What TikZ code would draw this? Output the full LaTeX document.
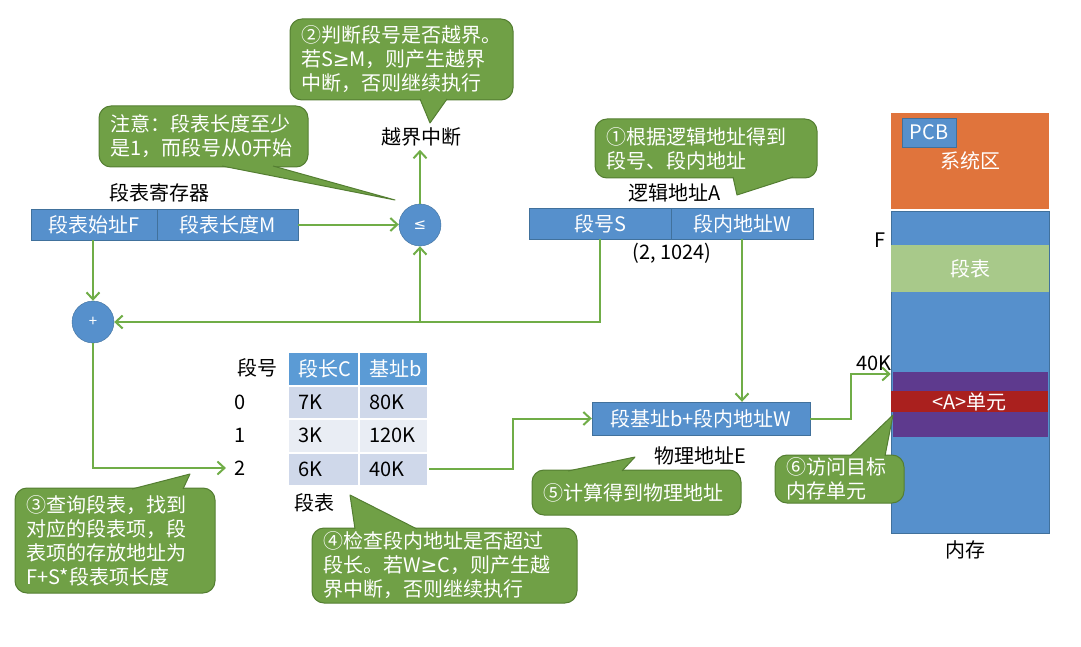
\documentclass[tikz,border=0pt]{standalone}
\usepackage{fontspec}
\setmainfont{Noto Sans CJK SC}
\newfontfamily\symfont{DejaVu Sans}
\usetikzlibrary{arrows.meta,calc}

\definecolor{boxblue}{RGB}{86,144,204}
\definecolor{boxline}{RGB}{65,113,156}
\definecolor{headblue}{RGB}{91,155,213}
\definecolor{rowdark}{RGB}{207,216,234}
\definecolor{rowlight}{RGB}{233,237,244}
\definecolor{callgreen}{RGB}{112,160,70}
\definecolor{callline}{RGB}{84,126,50}
\definecolor{flowgreen}{RGB}{112,173,71}
\definecolor{sysorange}{RGB}{224,116,60}
\definecolor{tabgreen}{RGB}{168,201,138}
\definecolor{cellpurple}{RGB}{94,58,142}
\definecolor{cellred}{RGB}{170,32,30}

\newcommand\bodyfont{\fontsize{20}{24}\selectfont}
\newcommand\signfont{\fontsize{15}{18}\selectfont}
\newcommand\calltail[3]{%
  \fill[callgreen] #1 -- #2 -- #3 -- cycle;
  \draw[callline, line width=1pt, line join=round] #1 -- #2 -- #3;}

\tikzset{
  lbl/.style={font=\bodyfont, text=black},
  bluebox/.style={draw=boxline, fill=boxblue, text=white, font=\bodyfont,
    minimum height=31, inner sep=0},
  cmp/.style={circle, draw=boxline, fill=boxblue, text=white, font=\signfont,
    minimum size=42, inner sep=0},
  cell/.style={draw=white, line width=2pt, font=\bodyfont, align=left,
    minimum height=33.5, inner xsep=10, inner ysep=0},
  colC/.style={text width=51},
  colB/.style={text width=49},
  memblk/.style={minimum width=158, inner sep=0, text=white, font=\bodyfont},
  callout/.style={rounded corners=12, fill=callgreen, draw=callline, line width=1pt,
    text=white, align=left, inner xsep=11, inner ysep=0, font=\bodyfont},
  flow/.style={draw=flowgreen, line width=2pt, -{Straight Barb[length=7pt,width=13pt]}}
}

\begin{document}
\begin{tikzpicture}[x=1pt,y=-1pt]
    \useasboundingbox (0,0) rectangle (1081,647);

    \node[lbl] (regname) at (159,193) {段表寄存器};
    \node[bluebox, minimum width=126] (regF) at (94,224.5) {段表始址F};
    \node[bluebox, minimum width=141] (regM) at (227.5,224.5) {段表长度M};

    \node[cmp] (le) at (420,225) {\symfont ≤};
    \node[cmp] (plus) at (93,322) {+};
    \node[lbl] (brk) at (421,137) {越界中断};

    \node[lbl] (laname) at (675,193) {逻辑地址A};
    \node[bluebox, minimum width=142] (laS) at (600,223.5) {段号S};
    \node[bluebox, minimum width=142] (laW) at (742,223.5) {段内地址W};
    \node[lbl] (laval) at (672,253) {(2, 1024)};

    \node[bluebox, minimum width=218, minimum height=33] (pa) at (701,418.5) {段基址b+段内地址W};
    \node[lbl] (paname) at (700,456) {物理地址E};

    \node[lbl] (hno) at (257,368) {段号};
    \node[cell, colC, fill=headblue, text=white] (hC) at (323.5,368.75) {段长C};
    \node[cell, colB, fill=headblue, text=white] (hB) at (393.5,368.75) {基址b};
    \node[lbl] (r0) at (240,402.25) {0};
    \node[cell, colC, fill=rowdark] (c0) at (323.5,402.25) {7K};
    \node[cell, colB, fill=rowdark] (b0) at (393.5,402.25) {80K};
    \node[lbl] (r1) at (240,435.75) {1};
    \node[cell, colC, fill=rowlight] (c1) at (323.5,435.75) {3K};
    \node[cell, colB, fill=rowlight] (b1) at (393.5,435.75) {120K};
    \node[lbl] (r2) at (240,468) {2};
    \node[cell, colC, fill=rowdark] (c2) at (323.5,469.25) {6K};
    \node[cell, colB, fill=rowdark] (b2) at (393.5,469.25) {40K};
    \node[lbl] (tabname) at (314,503) {段表};

    \node[memblk, fill=sysorange, minimum height=96] (sys) at (970,161) {系统区};
    \node[memblk, fill=boxblue, draw=boxline, line width=0.6pt, minimum height=322] (mem) at (970,372) {};
    \node[memblk, fill=tabgreen, minimum height=47] (segtab) at (970,268.5) {段表};
    \node[memblk, fill=cellpurple, minimum width=155, minimum height=65] (tgt) at (970.5,404.5) {};
    \node[memblk, fill=cellred, minimum width=157, minimum height=21] (unitA) at (969.5,401.5) {<A>单元};
    \node[bluebox, minimum width=54, minimum height=29] (pcb) at (929,132.5) {PCB};
    \node[lbl] (fmark) at (880,240) {F};
    \node[lbl] (mark40) at (874,363) {40K};
    \node[lbl] (memname) at (965,550) {内存};

    \draw[flow] (regM.east) -- (regM.east -| le.west);
    \draw[flow] (le.north) -- (le.north |- brk.south);
    \draw[flow] (plus |- regF.south) -- (plus);
    \draw[flow] (laS.south) |- (plus);
    \coordinate (lejoin) at (le |- plus);
    \draw[flow] (lejoin) -- (le);
    \draw[flow] (laW.south) -- (laW.south |- pa.north);
    \draw[flow, shorten >=5pt] (plus) |- (r2);
    \draw[flow] (b2.east) -- ++(84,0) |- (pa.west);
    \coordinate (in40) at (mem.west |- 0,374);
    \draw[flow] (pa.east) -- ++(41,0) |- (in40);

    \node[callout, text width=201, minimum height=81] (step2) at (401.5,59.5)
      {②判断段号是否越界。\\若S{\symfont ≥}M，则产生越界\\中断，否则继续执行};
    \calltail{(420,99)}{(430,123)}{(447,99)}
    \node[callout, text width=187, minimum height=61] (note) at (203.5,136.5)
      {注意：段表长度至少\\是1，而段号从0开始};
    \calltail{(222,166)}{(395,200)}{(273,166)}
    \node[callout, text width=200, minimum height=59] (step1) at (706,148.5)
      {①根据逻辑地址得到\\段号、段内地址};
    \calltail{(733,177)}{(737,195)}{(793,177)}
    \node[callout, text width=178, minimum height=105] (step3) at (115,540.5)
      {③查询段表，找到\\对应的段表项，段\\表项的存放地址为\\F+S*段表项长度};
    \calltail{(132,489)}{(190,474)}{(183,489)}
    \node[callout, text width=243, minimum height=75] (step4) at (444.5,565.5)
      {④检查段内地址是否超过\\段长。若W{\symfont ≥}C，则产生越\\界中断，否则继续执行};
    \calltail{(355,529)}{(350,495)}{(417,529)}
    \node[callout, text width=187, minimum height=45] (step5) at (636.5,492.5)
      {⑤计算得到物理地址};
    \calltail{(568,471)}{(635,457)}{(622,471)}
    \node[callout, text width=107, minimum height=48] (step6) at (839.5,479)
      {⑥访问目标\\内存单元};
    \calltail{(850,456)}{(893,415)}{(885,456)}
\end{tikzpicture}
\end{document}
